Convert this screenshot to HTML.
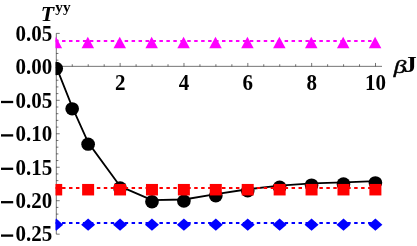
<!DOCTYPE html>
<html><head><meta charset="utf-8"><title>chart</title>
<style>html,body{margin:0;padding:0;background:#fff;overflow:hidden}svg{display:block;will-change:transform;opacity:0.999}</style></head>
<body>
<svg width="417" height="246" viewBox="0 0 417 246">
<rect width="417" height="246" fill="#fff"/>
<defs><clipPath id="c"><rect x="55.5" y="0" width="400" height="246"/></clipPath></defs>
<g stroke="#000" stroke-opacity="0.78" stroke-width="0.7" fill="none">
<line x1="56.3" y1="66.35" x2="382.00" y2="66.35"/>
<line x1="56.3" y1="33.38" x2="56.3" y2="234.17"/>
<line x1="56.30" y1="66.35" x2="56.30" y2="62.949999999999996"/>
<line x1="72.26" y1="66.35" x2="72.26" y2="64.25"/>
<line x1="88.22" y1="66.35" x2="88.22" y2="64.25"/>
<line x1="104.18" y1="66.35" x2="104.18" y2="64.25"/>
<line x1="120.14" y1="66.35" x2="120.14" y2="62.949999999999996"/>
<line x1="136.10" y1="66.35" x2="136.10" y2="64.25"/>
<line x1="152.06" y1="66.35" x2="152.06" y2="64.25"/>
<line x1="168.02" y1="66.35" x2="168.02" y2="64.25"/>
<line x1="183.98" y1="66.35" x2="183.98" y2="62.949999999999996"/>
<line x1="199.94" y1="66.35" x2="199.94" y2="64.25"/>
<line x1="215.90" y1="66.35" x2="215.90" y2="64.25"/>
<line x1="231.86" y1="66.35" x2="231.86" y2="64.25"/>
<line x1="247.82" y1="66.35" x2="247.82" y2="62.949999999999996"/>
<line x1="263.78" y1="66.35" x2="263.78" y2="64.25"/>
<line x1="279.74" y1="66.35" x2="279.74" y2="64.25"/>
<line x1="295.70" y1="66.35" x2="295.70" y2="64.25"/>
<line x1="311.66" y1="66.35" x2="311.66" y2="62.949999999999996"/>
<line x1="327.62" y1="66.35" x2="327.62" y2="64.25"/>
<line x1="343.58" y1="66.35" x2="343.58" y2="64.25"/>
<line x1="359.54" y1="66.35" x2="359.54" y2="64.25"/>
<line x1="375.50" y1="66.35" x2="375.50" y2="62.949999999999996"/>
<line x1="56.3" y1="234.17" x2="59.699999999999996" y2="234.17"/>
<line x1="56.3" y1="227.48" x2="58.4" y2="227.48"/>
<line x1="56.3" y1="220.79" x2="58.4" y2="220.79"/>
<line x1="56.3" y1="214.10" x2="58.4" y2="214.10"/>
<line x1="56.3" y1="207.40" x2="58.4" y2="207.40"/>
<line x1="56.3" y1="200.71" x2="59.699999999999996" y2="200.71"/>
<line x1="56.3" y1="194.02" x2="58.4" y2="194.02"/>
<line x1="56.3" y1="187.32" x2="58.4" y2="187.32"/>
<line x1="56.3" y1="180.63" x2="58.4" y2="180.63"/>
<line x1="56.3" y1="173.94" x2="58.4" y2="173.94"/>
<line x1="56.3" y1="167.25" x2="59.699999999999996" y2="167.25"/>
<line x1="56.3" y1="160.55" x2="58.4" y2="160.55"/>
<line x1="56.3" y1="153.86" x2="58.4" y2="153.86"/>
<line x1="56.3" y1="147.17" x2="58.4" y2="147.17"/>
<line x1="56.3" y1="140.47" x2="58.4" y2="140.47"/>
<line x1="56.3" y1="133.78" x2="59.699999999999996" y2="133.78"/>
<line x1="56.3" y1="127.09" x2="58.4" y2="127.09"/>
<line x1="56.3" y1="120.39" x2="58.4" y2="120.39"/>
<line x1="56.3" y1="113.70" x2="58.4" y2="113.70"/>
<line x1="56.3" y1="107.01" x2="58.4" y2="107.01"/>
<line x1="56.3" y1="100.31" x2="59.699999999999996" y2="100.31"/>
<line x1="56.3" y1="93.62" x2="58.4" y2="93.62"/>
<line x1="56.3" y1="86.93" x2="58.4" y2="86.93"/>
<line x1="56.3" y1="80.24" x2="58.4" y2="80.24"/>
<line x1="56.3" y1="73.54" x2="58.4" y2="73.54"/>
<line x1="56.3" y1="66.85" x2="59.699999999999996" y2="66.85"/>
<line x1="56.3" y1="60.16" x2="58.4" y2="60.16"/>
<line x1="56.3" y1="53.46" x2="58.4" y2="53.46"/>
<line x1="56.3" y1="46.77" x2="58.4" y2="46.77"/>
<line x1="56.3" y1="40.08" x2="58.4" y2="40.08"/>
<line x1="56.3" y1="33.38" x2="59.699999999999996" y2="33.38"/>
</g>
<g font-family="Liberation Serif, serif" font-weight="bold" font-size="21px" fill="#000">
<text transform="translate(52.30,41.00) scale(1.0,1.07)" text-anchor="end">0.05</text>
<text transform="translate(52.30,74.40) scale(1.0,1.07)" text-anchor="end">0.00</text>
<text transform="translate(52.30,107.80) scale(1.0,1.07)" text-anchor="end">0.05</text>
<rect x="1" y="100.85" width="12.2" height="2.3"/>
<text transform="translate(52.30,141.20) scale(1.0,1.07)" text-anchor="end">0.10</text>
<rect x="1" y="134.25" width="12.2" height="2.3"/>
<text transform="translate(52.30,174.60) scale(1.0,1.07)" text-anchor="end">0.15</text>
<rect x="1" y="167.65" width="12.2" height="2.3"/>
<text transform="translate(52.30,208.00) scale(1.0,1.07)" text-anchor="end">0.20</text>
<rect x="1" y="201.05" width="12.2" height="2.3"/>
<text transform="translate(52.30,241.40) scale(1.0,1.07)" text-anchor="end">0.25</text>
<rect x="1" y="234.45" width="12.2" height="2.3"/>
<text transform="translate(120.14,90.10) scale(1.0,1.07)" text-anchor="middle">2</text>
<text transform="translate(183.98,90.10) scale(1.0,1.07)" text-anchor="middle">4</text>
<text transform="translate(247.82,90.10) scale(1.0,1.07)" text-anchor="middle">6</text>
<text transform="translate(311.66,90.10) scale(1.0,1.07)" text-anchor="middle">8</text>
<text transform="translate(375.50,90.10) scale(1.0,1.07)" text-anchor="middle">10</text>
<text transform="translate(393.80,72.80) scale(1.2,0.94)" text-anchor="start" font-style="italic" font-weight="normal" stroke="#000" stroke-width="0.5">β</text>
<text transform="translate(403.80,72.30) scale(1.24,1.06)" text-anchor="start">J</text>
<text transform="translate(40.80,20.80) scale(1.04,1.02)" text-anchor="start" font-style="italic">T</text>
<text transform="translate(55.30,11.50) scale(1.09,1.0)" text-anchor="start" font-size="14px">yy</text>
</g>
<g clip-path="url(#c)">
<line x1="55.1" y1="40.9" x2="375.50" y2="40.9" stroke="#ff00ff" stroke-width="2" stroke-dasharray="3.48 3.475"/>
<path d="M55.90,36.80 L62.15,48.30 L49.65,48.30Z" fill="#ff00ff"/>
<path d="M87.82,36.80 L94.07,48.30 L81.57,48.30Z" fill="#ff00ff"/>
<path d="M119.74,36.80 L125.99,48.30 L113.49,48.30Z" fill="#ff00ff"/>
<path d="M151.66,36.80 L157.91,48.30 L145.41,48.30Z" fill="#ff00ff"/>
<path d="M183.58,36.80 L189.83,48.30 L177.33,48.30Z" fill="#ff00ff"/>
<path d="M215.50,36.80 L221.75,48.30 L209.25,48.30Z" fill="#ff00ff"/>
<path d="M247.42,36.80 L253.67,48.30 L241.17,48.30Z" fill="#ff00ff"/>
<path d="M279.34,36.80 L285.59,48.30 L273.09,48.30Z" fill="#ff00ff"/>
<path d="M311.26,36.80 L317.51,48.30 L305.01,48.30Z" fill="#ff00ff"/>
<path d="M343.18,36.80 L349.43,48.30 L336.93,48.30Z" fill="#ff00ff"/>
<path d="M375.10,36.80 L381.35,48.30 L368.85,48.30Z" fill="#ff00ff"/>
<polyline points="56.30,66.90 72.26,107.20 88.22,142.60 120.14,186.30 152.06,200.15 183.98,199.50 215.90,194.15 247.82,189.25 279.74,185.55 311.66,183.45 343.58,182.30 375.50,181.20" fill="none" stroke="#000" stroke-width="1.8" stroke-linejoin="round"/>
<ellipse cx="56.20" cy="68.50" rx="6.85" ry="6.65" fill="#000"/>
<ellipse cx="72.16" cy="108.80" rx="6.85" ry="6.65" fill="#000"/>
<ellipse cx="88.12" cy="144.20" rx="6.85" ry="6.65" fill="#000"/>
<ellipse cx="120.04" cy="187.90" rx="6.85" ry="6.65" fill="#000"/>
<ellipse cx="151.96" cy="201.75" rx="6.85" ry="6.65" fill="#000"/>
<ellipse cx="183.88" cy="201.10" rx="6.85" ry="6.65" fill="#000"/>
<ellipse cx="215.80" cy="195.75" rx="6.85" ry="6.65" fill="#000"/>
<ellipse cx="247.72" cy="190.85" rx="6.85" ry="6.65" fill="#000"/>
<ellipse cx="279.64" cy="187.15" rx="6.85" ry="6.65" fill="#000"/>
<ellipse cx="311.56" cy="185.05" rx="6.85" ry="6.65" fill="#000"/>
<ellipse cx="343.48" cy="183.90" rx="6.85" ry="6.65" fill="#000"/>
<ellipse cx="375.40" cy="182.80" rx="6.85" ry="6.65" fill="#000"/>
<line x1="55.1" y1="188.0" x2="375.50" y2="188.0" stroke="#ff0000" stroke-width="2" stroke-dasharray="3.48 3.475"/>
<rect x="50.20" y="183.95" width="12" height="11.5" fill="#ff0000"/>
<rect x="82.12" y="183.95" width="12" height="11.5" fill="#ff0000"/>
<rect x="114.04" y="183.95" width="12" height="11.5" fill="#ff0000"/>
<rect x="145.96" y="183.95" width="12" height="11.5" fill="#ff0000"/>
<rect x="177.88" y="183.95" width="12" height="11.5" fill="#ff0000"/>
<rect x="209.80" y="183.95" width="12" height="11.5" fill="#ff0000"/>
<rect x="241.72" y="183.95" width="12" height="11.5" fill="#ff0000"/>
<rect x="273.64" y="183.95" width="12" height="11.5" fill="#ff0000"/>
<rect x="305.56" y="183.95" width="12" height="11.5" fill="#ff0000"/>
<rect x="337.48" y="183.95" width="12" height="11.5" fill="#ff0000"/>
<rect x="369.40" y="183.95" width="12" height="11.5" fill="#ff0000"/>
<line x1="55.1" y1="223.0" x2="375.50" y2="223.0" stroke="#0000ff" stroke-width="2" stroke-dasharray="3.48 3.475"/>
<path d="M56.20,218.60 L63.20,224.70 L56.20,230.80 L49.20,224.70Z" fill="#0000ff"/>
<path d="M88.12,218.60 L95.12,224.70 L88.12,230.80 L81.12,224.70Z" fill="#0000ff"/>
<path d="M120.04,218.60 L127.04,224.70 L120.04,230.80 L113.04,224.70Z" fill="#0000ff"/>
<path d="M151.96,218.60 L158.96,224.70 L151.96,230.80 L144.96,224.70Z" fill="#0000ff"/>
<path d="M183.88,218.60 L190.88,224.70 L183.88,230.80 L176.88,224.70Z" fill="#0000ff"/>
<path d="M215.80,218.60 L222.80,224.70 L215.80,230.80 L208.80,224.70Z" fill="#0000ff"/>
<path d="M247.72,218.60 L254.72,224.70 L247.72,230.80 L240.72,224.70Z" fill="#0000ff"/>
<path d="M279.64,218.60 L286.64,224.70 L279.64,230.80 L272.64,224.70Z" fill="#0000ff"/>
<path d="M311.56,218.60 L318.56,224.70 L311.56,230.80 L304.56,224.70Z" fill="#0000ff"/>
<path d="M343.48,218.60 L350.48,224.70 L343.48,230.80 L336.48,224.70Z" fill="#0000ff"/>
<path d="M375.40,218.60 L382.40,224.70 L375.40,230.80 L368.40,224.70Z" fill="#0000ff"/>
</g>
</svg>
</body></html>
